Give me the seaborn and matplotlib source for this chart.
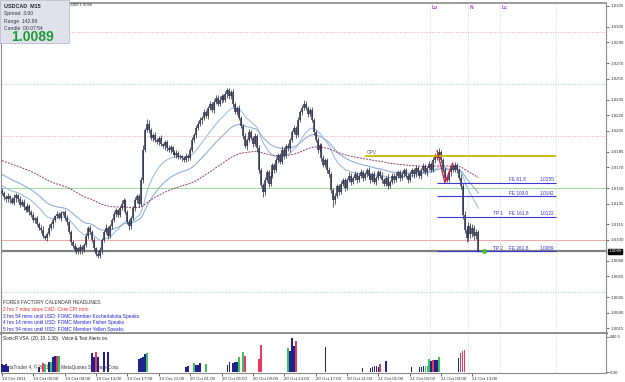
import numpy as np
import pandas as pd
import matplotlib
matplotlib.use("Agg")
import matplotlib.pyplot as plt
from matplotlib.patches import Rectangle
import seaborn as sns

# ---------------- data ----------------
first_open = 1.0147
closes = [
    1.0145, 1.0141, 1.0139, 1.0142, 1.0139, 1.0136, 1.0140, 1.0143, 1.0139, 1.0134,
    1.0137, 1.0132, 1.0129, 1.0133, 1.0127, 1.0124, 1.0119, 1.0121, 1.0115, 1.0112,
    1.0110, 1.0104, 1.0102, 1.0106, 1.0112, 1.0115, 1.0119, 1.0123, 1.0125, 1.0121,
    1.0126, 1.0127, 1.0121, 1.0117, 1.0108, 1.0098, 1.0094, 1.0090, 1.0092, 1.0089,
    1.0093, 1.0090, 1.0095, 1.0104, 1.0112, 1.0108, 1.0100, 1.0092, 1.0087, 1.0085,
    1.0090, 1.0100, 1.0108, 1.0112, 1.0104, 1.0113, 1.0119, 1.0125, 1.0129, 1.0124,
    1.0131, 1.0135, 1.0138, 1.0127, 1.0117, 1.0113, 1.0121, 1.0131, 1.0138, 1.0142,
    1.0135, 1.0158, 1.0187, 1.0206, 1.0212, 1.0206, 1.0198, 1.0201, 1.0196, 1.0194,
    1.0198, 1.0192, 1.0190, 1.0194, 1.0188, 1.0187, 1.0189, 1.0185, 1.0182, 1.0184,
    1.0180, 1.0181, 1.0179, 1.0177, 1.0181, 1.0179, 1.0187, 1.0196, 1.0201, 1.0208,
    1.0212, 1.0215, 1.0217, 1.0223, 1.0219, 1.0227, 1.0231, 1.0225, 1.0233, 1.0237,
    1.0231, 1.0235, 1.0238, 1.0235, 1.0240, 1.0244, 1.0238, 1.0242, 1.0231, 1.0223,
    1.0227, 1.0217, 1.0210, 1.0200, 1.0190, 1.0196, 1.0204, 1.0198, 1.0192, 1.0200,
    1.0188, 1.0167, 1.0153, 1.0146, 1.0158, 1.0165, 1.0154, 1.0162, 1.0172, 1.0167,
    1.0177, 1.0182, 1.0175, 1.0187, 1.0181, 1.0190, 1.0188, 1.0196, 1.0204, 1.0208,
    1.0201, 1.0215, 1.0223, 1.0227, 1.0231, 1.0227, 1.0221, 1.0225, 1.0215, 1.0204,
    1.0196, 1.0187, 1.0191, 1.0179, 1.0172, 1.0177, 1.0167, 1.0163, 1.0148, 1.0138,
    1.0142, 1.0152, 1.0146, 1.0154, 1.0158, 1.0150, 1.0158, 1.0162, 1.0156, 1.0160,
    1.0163, 1.0158, 1.0162, 1.0165, 1.0160, 1.0163, 1.0167, 1.0162, 1.0158, 1.0163,
    1.0156, 1.0160, 1.0165, 1.0162, 1.0158, 1.0154, 1.0160, 1.0152, 1.0156, 1.0162,
    1.0158, 1.0162, 1.0165, 1.0160, 1.0163, 1.0167, 1.0162, 1.0158, 1.0163, 1.0167,
    1.0163, 1.0169, 1.0165, 1.0162, 1.0167, 1.0171, 1.0165, 1.0169, 1.0173, 1.0167,
    1.0177, 1.0182, 1.0179, 1.0185, 1.0177, 1.0167, 1.0160, 1.0158, 1.0165, 1.0171,
    1.0167, 1.0172, 1.0167, 1.0160, 1.0152, 1.0124, 1.0110, 1.0102, 1.0113, 1.0106,
    1.0112, 1.0104, 1.0108, 1.0089,
]
wick_hi = [
    3, 2, 2, 3, 1, 2, 4, 2, 1, 3, 2, 2, 1, 3, 2, 2, 3, 1, 2, 2,
    2, 3, 1, 2, 3, 2, 2, 1, 3, 2, 2, 1, 2, 3, 1, 2, 2, 3, 2, 1,
    3, 2, 2, 3, 1, 2, 2, 3, 1, 2, 3, 2, 2, 3, 1, 2, 2, 3, 2, 1,
    2, 3, 2, 1, 2, 3, 2, 2, 3, 2, 2, 3, 4, 2, 4, 3, 2, 2, 3, 2,
    2, 3, 1, 2, 2, 3, 2, 1, 2, 3, 2, 2, 1, 2, 3, 2, 2, 3, 2, 3,
    2, 3, 2, 3, 2, 2, 3, 2, 3, 2, 2, 3, 2, 2, 3, 2, 2, 2, 3, 2,
    2, 3, 2, 2, 3, 2, 3, 2, 2, 3, 2, 3, 2, 2, 3, 2, 2, 3, 2, 2,
    3, 2, 2, 3, 2, 2, 3, 2, 2, 3, 2, 3, 2, 3, 4, 3, 2, 2, 3, 2,
    2, 3, 2, 2, 3, 2, 2, 3, 2, 2, 3, 2, 2, 3, 2, 2, 2, 3, 2, 2,
    3, 2, 2, 3, 2, 2, 2, 3, 2, 2, 3, 2, 2, 2, 3, 2, 2, 3, 2, 2,
    2, 3, 2, 2, 3, 2, 2, 2, 3, 2, 2, 3, 2, 2, 2, 3, 2, 2, 3, 2,
    3, 2, 3, 3, 2, 2, 3, 2, 3, 2, 2, 3, 2, 2, 3, 3, 4, 3, 4, 3,
    3, 2, 3, 2,
]
wick_lo = [
    2, 3, 2, 2, 3, 1, 2, 3, 2, 2, 1, 3, 2, 2, 3, 2, 2, 3, 2, 2,
    3, 2, 2, 3, 2, 2, 3, 2, 2, 1, 3, 2, 2, 3, 2, 3, 2, 2, 3, 2,
    2, 3, 2, 2, 3, 2, 2, 3, 2, 2, 2, 3, 2, 2, 3, 2, 2, 2, 3, 2,
    2, 2, 3, 2, 2, 3, 2, 2, 3, 2, 3, 2, 3, 2, 2, 3, 2, 3, 2, 2,
    3, 2, 2, 3, 2, 2, 3, 2, 2, 3, 2, 2, 3, 2, 2, 3, 2, 2, 2, 3,
    2, 2, 3, 2, 2, 3, 2, 2, 3, 2, 2, 2, 3, 2, 2, 3, 2, 2, 3, 2,
    3, 2, 2, 3, 2, 3, 2, 2, 3, 2, 3, 3, 2, 5, 3, 2, 3, 2, 2, 3,
    2, 3, 2, 2, 3, 2, 2, 3, 2, 2, 3, 2, 2, 3, 2, 2, 3, 2, 2, 3,
    2, 3, 2, 3, 2, 2, 3, 2, 3, 6, 3, 2, 3, 2, 2, 3, 2, 2, 3, 2,
    2, 3, 2, 2, 3, 2, 2, 2, 3, 2, 2, 3, 2, 2, 3, 2, 2, 3, 2, 2,
    3, 2, 2, 3, 2, 2, 2, 3, 2, 2, 3, 2, 2, 2, 3, 2, 2, 3, 2, 2,
    2, 3, 2, 2, 3, 2, 3, 2, 2, 3, 2, 2, 3, 2, 3, 4, 3, 4, 3, 4,
    3, 4, 3, 1,
]
time_labels = ["19 Oct 2011", "19 Oct 05:00", "19 Oct 09:00", "19 Oct 13:00",
               "19 Oct 17:00", "19 Oct 21:00", "20 Oct 01:00", "20 Oct 05:00",
               "20 Oct 09:00", "20 Oct 13:00", "20 Oct 17:00", "20 Oct 21:00",
               "21 Oct 01:00", "21 Oct 05:00", "21 Oct 09:00", "21 Oct 13:00"]
price_ticks = [1.0325, 1.0305, 1.0290, 1.0270, 1.0255, 1.0235, 1.0220, 1.0205,
               1.0185, 1.0170, 1.0150, 1.0135, 1.0115, 1.0100, 1.0080, 1.0065,
               1.0045, 1.0030, 1.0015]
pivot_levels = [1.0300, 1.0250, 1.0200, 1.0150, 1.0100, 1.0050]
pivot_kind = ["r", "g", "r", "g", "r", "g"]
pivot_solid = [False, False, False, True, True, False]
fe_levels = [1.0155, 1.0142, 1.0122, 1.0089]
fe_names = ["FE 61.8", "FE 100.0", "FE 161.8", "FE 261.8"]
fe_tp = ["", "", "TP 1", "TP 2"]
fe_start_bar = 222
cpv_level = 1.0181
cpv_start_bar = 185
zigzag_bars = [222, 226, 230]
zigzag_prices = [1.0186, 1.0155, 1.0174]
session_bars = [218.4, 237.8, 254.1, 282.7]
session_names = ["Lo", "N", "Lc", ""]
ma_seed = {"fast": 1.0153, "slow": 1.0164, "long": 1.0177}
ma_period = {"fast": 20, "slow": 40, "long": 100}
bid, ask = 1.0089, 1.0090

vsa_bars = [0, 1, 2, 3, 19, 21, 22, 24, 25, 26, 27, 28, 29, 46, 47, 48, 49, 52, 54,
            70, 71, 72, 73, 74, 94, 95, 98, 99, 100, 101, 104, 115, 116, 118, 119, 120,
            121, 123, 124, 131, 132, 146, 147, 148, 149, 150, 165, 184, 188, 189, 190,
            191, 192, 193, 196, 209, 213, 214, 215, 216, 217, 218, 219, 220, 221, 222,
            223, 233, 234, 235, 236]
vsa_vol = [141, 122, 141, 110, 97, 171, 141, 189, 189, 268, 293, 293, 293, 354, 281,
           360, 281, 372, 372, 232, 250, 281, 329, 354, 85, 110, 159, 122, 134, 159,
           141, 122, 189, 171, 177, 177, 281, 360, 293, 238, 500, 433, 390, 628, 476,
           567, 463, 67, 67, 85, 110, 110, 97, 141, 200, 85, 85, 85, 110, 110, 116,
           232, 207, 220, 220, 220, 268, 256, 354, 378, 397]
vsa_kind = ["n", "n", "n", "n", "n", "r", "g", "n", "g", "n", "n", "r", "g", "n", "n",
            "r", "n", "n", "n", "n", "n", "n", "n", "g", "n", "n", "g", "n", "n", "n",
            "g", "n", "n", "n", "n", "n", "g", "g", "r", "r", "r", "g", "n", "n", "n",
            "r", "n", "n", "n", "n", "n", "n", "n", "r", "n", "n", "n", "n", "n", "g",
            "g", "g", "n", "r", "n", "n", "g", "n", "r", "r", "r"]
vol_max = 640.5

calendar_head = "FOREX FACTORY CALENDAR HEADLINES:"
calendar_lines = ["2 hrs 7 mins since CAD: Core CPI m/m",
                  "3 hrs 54 mins until USD: FOMC Member Kocherlakota Speaks",
                  "4 hrs 14 mins until USD: FOMC Member Fisher Speaks",
                  "5 hrs 54 mins until USD: FOMC Member Yellen Speaks"]
calendar_past = [True, False, False, False]

# ---------------- style ----------------
sns.set_theme(style="white")
plt.rcParams['font.family'] = ['Liberation Sans', 'DejaVu Sans']

W, H = 625, 382
PXB = 1.96          # pixels per bar
X0 = 2.0            # pixel of first bar


def fx(px):
    return px / W


def fy(py):
    return 1 - py / H


def px2bar(px):
    return (px - X0) / PXB


fig = plt.figure(figsize=(W / 100, H / 100), dpi=100)
fig.patch.set_facecolor("white")
ax = fig.add_axes([fx(1), fy(333), fx(606) - fx(1), fy(2.5) - fy(333)])
axv = fig.add_axes([fx(1), fy(373), fx(606) - fx(1), fy(334) - fy(373)])

xlim = (px2bar(1), px2bar(606))
ax.set_xlim(*xlim)
axv.set_xlim(*xlim)
# price scale: 1.0150 at px 188, 10400 px per unit
ax.set_ylim(1.0150 - (333 - 188) / 10400, 1.0150 + (188 - 2.5) / 10400)
vpx = vol_max / 35.0
axv.set_ylim(-1 * vpx, 38 * vpx)

col_g, col_r = "#9ad99a", "#f2a6a6"
for lev, k, solid in zip(pivot_levels, pivot_kind, pivot_solid):
    ax.axhline(lev, color=col_g if k == "g" else col_r, lw=0.7,
               ls="-" if solid else (0, (1, 1.5)), zorder=1)

for b in session_bars:
    for a in (ax, axv):
        a.axvline(b, color="#d6d1ee", lw=0.55, ls=(0, (2, 2)), zorder=1)
for b, name in zip(session_bars, session_names):
    ax.text(b + 1, 0.993, name, transform=ax.get_xaxis_transform(), fontsize=3.6,
            color="#a040d0", fontweight="bold", va="top", ha="left")

# candles
c = np.array(closes)
n = len(c)
idx = np.arange(n)
o = np.r_[first_open, c[:-1]]
hi = np.maximum(o, c) + np.array(wick_hi) * 0.0001
lo = np.minimum(o, c) - np.array(wick_lo) * 0.0001
btop = np.maximum(o, c)
bbot = np.minimum(o, c)
small = (btop - bbot) < 0.00006
btop = np.where(small, btop + 0.00003, btop)
bbot = np.where(small, bbot - 0.00003, bbot)
cc = "#30334d"
ax.vlines(idx, lo, hi, color=cc, lw=0.55, zorder=3)
ax.vlines(idx, bbot, btop, color=cc, lw=1.1, zorder=3)

# moving averages (EMA of the close, seeded with the visible start value)
df = pd.DataFrame({"bar": idx, "close": c})
for key, color, ls, lw in [("fast", "#9dbfe0", "-", 0.8), ("slow", "#8fb0d6", "-", 0.8),
                           ("long", "#8e3c6a", (0, (2, 1.2)), 0.7)]:
    s = pd.Series([ma_seed[key]] + closes)
    ema = s.ewm(span=ma_period[key], adjust=False).mean().iloc[1:].to_numpy()
    df[key] = ema
    sns.lineplot(data=df, x="bar", y=key, ax=ax, color=color, lw=lw, linestyle=ls,
                 legend=False, zorder=2)
ax.set_xlabel("")
ax.set_ylabel("")

# price line
ax.axhline(bid, color="#808080", lw=1.6, zorder=2)

# CPV
ax.hlines(cpv_level, cpv_start_bar, px2bar(556), color="#c9b800", lw=1.3, zorder=4)
ax.text(cpv_start_bar + 1, cpv_level + 0.00007, "CPV", fontsize=3.5, color="#555555",
        va="bottom", ha="left")

# fib expansion lines
fe_end = px2bar(556)
for lev, name, tp in zip(fe_levels, fe_names, fe_tp):
    ax.hlines(lev, fe_start_bar, fe_end, color="#3a3ad0", lw=0.8, zorder=4)
    ax.text(px2bar(509), lev + 0.00006, name, fontsize=3.4, color="#3030c8",
            va="bottom", ha="left")
    ax.text(px2bar(540), lev + 0.00006, f"{lev:.4f}", fontsize=3.4, color="#3030c8",
            va="bottom", ha="left")
    if tp:
        ax.text(px2bar(493), lev + 0.00006, tp, fontsize=3.4, color="#3030c8",
                va="bottom", ha="left")

# zigzag
ax.plot(zigzag_bars, zigzag_prices, color="#e0203a", lw=1.0, zorder=5)
# TP2 marker
ax.scatter([px2bar(484)], [fe_levels[-1]], s=9, color="#33cc33", zorder=6,
           edgecolor="#229922", linewidth=0.3)

# axes styling
for a in (ax, axv):
    a.set_facecolor("white")
    for sp in a.spines.values():
        sp.set_color("#8a8a8a")
        sp.set_linewidth(0.8)
ax.spines["bottom"].set_linewidth(2.0)
axv.spines["top"].set_visible(False)
ax.spines["top"].set_linewidth(1.2)

ax.set_xticks([])
ax.yaxis.tick_right()
ax.set_yticks(price_ticks)
ax.set_yticklabels([f"{p:.4f}" for p in price_ticks])
ax.tick_params(axis="y", which="both", right=True, length=2, width=0.5, pad=1,
               labelsize=3.2, colors="#333333")

axv.yaxis.tick_right()
axv.set_yticks([0, vol_max])
axv.set_yticklabels(["0.00", f"{vol_max}"])
axv.tick_params(axis="y", right=True, length=2, width=0.5, pad=1, labelsize=3.2,
                colors="#333333")
axv.set_xticks(np.arange(0, 16 * len(time_labels), 16))
axv.set_xticklabels(time_labels)
axv.tick_params(axis="x", bottom=True, length=2, width=0.5, pad=0.8, labelsize=3.2,
                colors="#333333")
for t in axv.get_xticklabels():
    t.set_ha("left")

# current price box on the axis
ax.text(1.004, bid, f"{bid:.4f}", transform=ax.get_yaxis_transform(), fontsize=3.2,
        color="white", va="center", ha="left",
        bbox=dict(boxstyle="square,pad=0.15", fc="black", ec="black"))

# volume bars
vcols = {"n": "#22228f", "g": "#3fc35f", "r": "#e83a5c"}
axv.text(px2bar(3), 33.5 * vpx, "SonicR VSA  (20, 10, 1.30)   Voice & Text Alerts on.",
         fontsize=3.3, color="#222222", va="center", ha="left")
axv.text(px2bar(3), 4.5 * vpx, "MetaTrader 4, \u00a9 2001-2011 MetaQuotes Software Corp.",
         fontsize=3.3, color="#333333", va="center", ha="left", zorder=2)
axv.bar(vsa_bars, vsa_vol, width=0.8, color=[vcols[k] for k in vsa_kind], zorder=3,
        linewidth=0)

# calendar headlines
fig.text(fx(3), fy(302.5), calendar_head, fontsize=3.5, color="#333333", va="center",
         ha="left")
for i, (line, past) in enumerate(zip(calendar_lines, calendar_past)):
    fig.text(fx(3), fy(309.5 + 6.6 * i), line, fontsize=3.5,
             color="#e02828" if past else "#2323d2", va="center", ha="left")

# info box
fig.text(fx(66), fy(5), f"{bid:.4f} {ask:.4f}", fontsize=3.0, color="#333333",
         va="center", ha="left", zorder=3)
fig.patches.append(Rectangle((0, fy(43)), fx(69), 43 / H, transform=fig.transFigure,
                             facecolor="#dfe2ea", edgecolor="#b0b4c4", lw=0.5, zorder=5))
fig.text(fx(4), fy(6), "USDCAD  M15", fontsize=3.9, fontweight="bold", color="#222233",
         va="center", ha="left", zorder=6)
fig.text(fx(4), fy(14), "Spread  3.00", fontsize=3.6, color="#333344", va="center",
         ha="left", zorder=6)
fig.text(fx(4), fy(21), "Range  142.99", fontsize=3.6, color="#333344", va="center",
         ha="left", zorder=6)
fig.text(fx(4), fy(28), "Candle  00:07:54", fontsize=3.6, color="#333344", va="center",
         ha="left", zorder=6)
fig.text(fx(11), fy(37), f"{bid:.4f}", fontsize=10, fontweight="bold", color="#1e9a32",
         va="center", ha="left", zorder=6)

fig.savefig("out.png", dpi=100, facecolor="white")
